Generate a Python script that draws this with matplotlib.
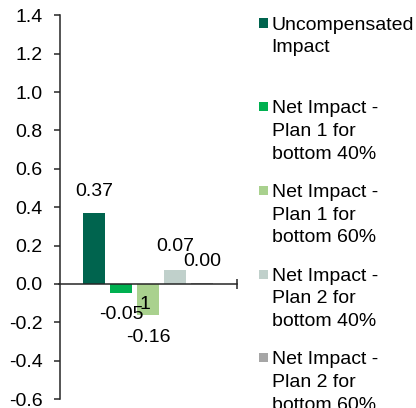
import matplotlib
matplotlib.use("Agg")
import matplotlib.pyplot as plt
from matplotlib.patches import Rectangle

plt.rcParams['font.family'] = ['Liberation Sans', 'DejaVu Sans']

series = ["Uncompensated\nImpact",
          "Net Impact -\nPlan 1 for\nbottom 40%",
          "Net Impact -\nPlan 1 for\nbottom 60%",
          "Net Impact -\nPlan 2 for\nbottom 40%",
          "Net Impact -\nPlan 2 for\nbottom 60%"]
values = [0.37, -0.05, -0.16, 0.07, 0.005]
value_labels = ["0.37", "-0.05", "-0.16", "0.07", "0.00"]
colors = ["#00644E", "#00B050", "#A9D18E", "#C0D0CB", "#A6A6A6"]
yticks = [-0.6, -0.4, -0.2, 0.0, 0.2, 0.4, 0.6, 0.8, 1.0, 1.2, 1.4]

W, H = 416, 408
fig = plt.figure(figsize=(W / 100, H / 100), dpi=100)

def fx(px):
    return px / W

def fy(py):
    return (H - py) / H

ax = fig.add_axes([fx(59.5), fy(399), fx(236.7) - fx(59.5), fy(15.3) - fy(399)])
ax.set_xlim(-0.5, 0.5)
ax.set_ylim(-0.6, 1.4)

axis_color = "#262626"
fs = 14
step = 0.1525
width = 0.124
# label offsets in pixels (vertical from bar end)
label_off_px = [21, -21.5, -22.5, 23.5, 21]
for i, (v, c, lab) in enumerate(zip(values, colors, value_labels)):
    xc = (i - 2) * step
    ax.bar(xc, v, width=width, color=c, zorder=2)
    ax.annotate(lab, xy=(xc, v), xytext=(0, label_off_px[i] * 0.72),
                textcoords="offset points", ha="center", va="center",
                fontsize=fs, color="black", zorder=4)
# stray partial label visible on third bar
ax.annotate("1", xy=(0, values[2]), xytext=(-3 * 0.72, 9.7 * 0.72),
            textcoords="offset points", ha="center", va="center",
            fontsize=fs, color="black", zorder=4)

for s in ["top", "right"]:
    ax.spines[s].set_visible(False)
ax.spines["bottom"].set_position(("data", 0))
ax.spines["bottom"].set_color(axis_color)
ax.spines["left"].set_color(axis_color)
ax.spines["bottom"].set_linewidth(1.1)
ax.spines["left"].set_linewidth(1.1)
ax.spines["bottom"].set_zorder(3)

ax.set_yticks(yticks)
ax.set_yticklabels([f"{t:.1f}" for t in yticks])
ax.tick_params(axis="y", direction="out", length=4.3, width=1.1, pad=8,
               labelsize=fs, color=axis_color, labelcolor="black")
ax.set_xticks([0.5])
ax.set_xticklabels([])
ax.tick_params(axis="x", direction="inout", length=7.2, width=1.1,
               color=axis_color)

# legend
base0 = 30
entry_step = 83.7
line_step = 22.5
for i, (name, c) in enumerate(zip(series, colors)):
    baseline = base0 + entry_step * i
    cy = baseline - 7
    fig.add_artist(Rectangle((fx(259), fy(cy + 4.5)), fx(9), fy(cy - 4.5) - fy(cy + 4.5),
                             transform=fig.transFigure, color=c, lw=0))
    last_baseline = baseline + line_step * name.count("\n")
    fig.text(fx(271.5), fy(last_baseline), name, ha="left", va="baseline",
             fontsize=fs, color="black", linespacing=1.44)

fig.savefig("out.png", dpi=100)
